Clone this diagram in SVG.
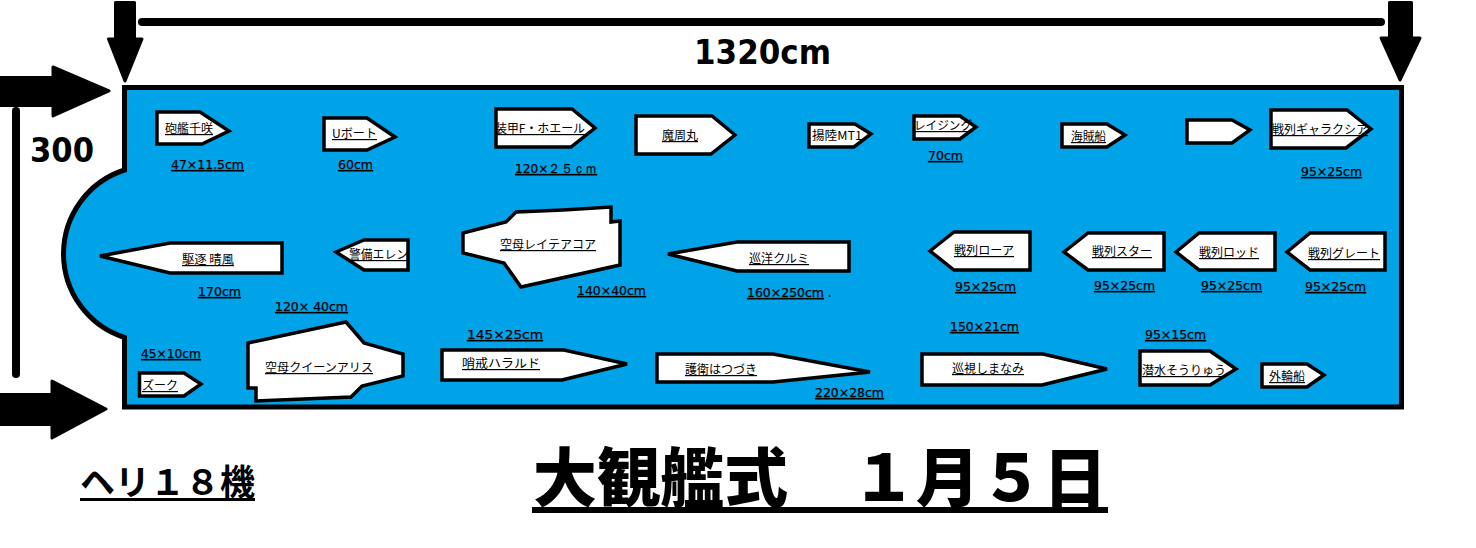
<svg xmlns="http://www.w3.org/2000/svg" width="1476" height="548" viewBox="0 0 1476 548">
<style>
text{font-family:"Noto Sans CJK JP","Liberation Sans",sans-serif;fill:#000}
.ship{fill:#fff;stroke:#000;stroke-width:3.500;stroke-linejoin:miter}
.n{font-size:12px;text-decoration:underline}
.p{font-size:12px}
.d{font-family:"DejaVu Sans","Liberation Sans",sans-serif;font-size:13px;text-decoration:underline;stroke:#000;stroke-width:.25}
.big{font-family:"DejaVu Sans",sans-serif;font-size:33px;font-weight:700}
.arrow{fill:#000;stroke:#000;stroke-width:3;stroke-linejoin:round}
.line{stroke:#000;stroke-width:8;stroke-linecap:round;fill:none}
</style>
<rect width="1476" height="548" fill="#fff"/>
<g id="hall"><path d="M124.5 87.5H1401.5V407H124.5V337.500A88 88 0 0 1 124.500 170Z" fill="#00a2e8" stroke="#000" stroke-width="5"/></g>
<g id="connectors">
<path class="line" d="M142 22H1381"/>
<path class="line" d="M16 111V374"/>
<path class="arrow" d="M115.500 2.500H134.500V39H142L125 81L108.500 39H115.500Z"/>
<path class="arrow" d="M1389.500 2.500H1411.500V38H1420L1400 80L1381 38H1389.500Z"/>
<path class="arrow" d="M0 77.500H53V67L109 91L53 116V105.500H0Z"/>
<path class="arrow" d="M0 394.500H52V381L106 409L52 438V424.500H0Z"/>
</g>
<g id="ship-houkan"><polygon class="ship" points="157,112 200,112 229,131 202,144 157,144"/><text class="n" x="165" y="133" textLength="48" lengthAdjust="spacingAndGlyphs">砲艦千咲</text></g>
<g id="ship-uboat"><polygon class="ship" points="324,118 367,118 395,137 367,150 324,150"/><text class="n" x="332" y="138" textLength="45" lengthAdjust="spacingAndGlyphs">Uボート</text></g>
<g id="ship-whale"><polygon class="ship" points="496,109 572,109 595,128 571,147 496,147"/><text class="n" x="495" y="133" textLength="90" lengthAdjust="spacingAndGlyphs">装甲F・ホエール</text></g>
<g id="ship-mashu"><polygon class="ship" points="636,116 712,116 735,135 711,154 636,154"/><text class="n" x="662" y="140" textLength="36" lengthAdjust="spacingAndGlyphs">魔周丸</text></g>
<g id="ship-mt1"><polygon class="ship" points="809,124 855,124 871,134 854,147 809,147"/><text class="p" x="812" y="140" textLength="50" lengthAdjust="spacingAndGlyphs">揚陸MT1</text></g>
<g id="ship-raising"><polygon class="ship" points="914,116 960,116 976,127 960,139 914,139"/><text class="n" x="914" y="130" textLength="58" lengthAdjust="spacingAndGlyphs">レイジング</text></g>
<g id="ship-pirate"><polygon class="ship" points="1062,124 1107,124 1125,135 1107,147 1062,147"/><text class="n" x="1071" y="141" textLength="35" lengthAdjust="spacingAndGlyphs">海賊船</text></g>
<g id="ship-blank"><polygon class="ship" points="1187,120 1232,120 1250,130 1232,143 1187,143"/></g>
<g id="ship-galaxia"><polygon class="ship" points="1271,110 1347,110 1371,129 1346,148 1271,148"/><text class="n" x="1272" y="134" textLength="96" lengthAdjust="spacingAndGlyphs">戦列ギャラクシア</text></g>
<g id="ship-harukaze"><polygon class="ship" points="100,256 170,243 282,243 282,273 170,273"/><text class="n" x="182" y="264" textLength="52" lengthAdjust="spacingAndGlyphs">駆逐 晴風</text></g>
<g id="ship-ellen"><polygon class="ship" points="336,252 364,240 408,240 408,270 364,270"/><text class="n" x="349" y="259" textLength="59" lengthAdjust="spacingAndGlyphs">警備エレン</text></g>
<g id="ship-leitea"><polygon class="ship" points="463,233 506,222 516,212 563,210 611,207 611,222 620,221 620,265 521,287 504,263 463,253"/><text class="n" x="500" y="249" textLength="96" lengthAdjust="spacingAndGlyphs">空母レイテアコア</text></g>
<g id="ship-kurumi"><polygon class="ship" points="668,254 737,242 849,242 849,271 737,271"/><text class="n" x="749" y="263" textLength="60" lengthAdjust="spacingAndGlyphs">巡洋クルミ</text></g>
<g id="ship-roa"><polygon class="ship" points="930,251 954,232 1030,232 1030,270 954,270"/><text class="n" x="954" y="255" textLength="60" lengthAdjust="spacingAndGlyphs">戦列ローア</text></g>
<g id="ship-star"><polygon class="ship" points="1064,252 1088,233 1164,233 1164,270 1088,270"/><text class="n" x="1092" y="256" textLength="60" lengthAdjust="spacingAndGlyphs">戦列スター</text></g>
<g id="ship-rod"><polygon class="ship" points="1176,252 1199,233 1275,233 1275,270 1199,270"/><text class="n" x="1199" y="257" textLength="60" lengthAdjust="spacingAndGlyphs">戦列ロッド</text></g>
<g id="ship-great"><polygon class="ship" points="1287,252 1310,233 1385,233 1385,270 1310,270"/><text class="n" x="1308" y="258" textLength="72" lengthAdjust="spacingAndGlyphs">戦列グレート</text></g>
<g id="ship-zuk"><polygon class="ship" points="139.500,373 184,373 201,384 184,396 139.500,396"/><text class="n" x="142" y="390" textLength="36" lengthAdjust="spacingAndGlyphs">ズーク</text></g>
<g id="ship-alice"><polygon class="ship" points="248,343 346,322 364,343 403,354 403,376 362,386 351,397 256,401 256,388 248,388"/><text class="n" x="265" y="372" textLength="108" lengthAdjust="spacingAndGlyphs">空母クイーンアリス</text></g>
<g id="ship-harald"><polygon class="ship" points="442,350 564,350 627,364 562,380 442,380"/><text class="n" x="462" y="368" textLength="78" lengthAdjust="spacingAndGlyphs">哨戒ハラルド</text></g>
<g id="ship-hatsuzuki"><polygon class="ship" points="657,354 773,354 870,372 773,382 657,382"/><text class="n" x="685" y="374" textLength="72" lengthAdjust="spacingAndGlyphs">護衛はつづき</text></g>
<g id="ship-shimanami"><polygon class="ship" points="922,354 1043,354 1107,369 1042,385 922,385"/><text class="n" x="952" y="373" textLength="72" lengthAdjust="spacingAndGlyphs">巡視しまなみ</text></g>
<g id="ship-soryu"><polygon class="ship" points="1140,351 1210,351 1236,369 1210,385 1140,385"/><text class="n" x="1142" y="375" textLength="84" lengthAdjust="spacingAndGlyphs">潜水そうりゅう</text></g>
<g id="ship-paddle"><polygon class="ship" points="1262,364 1307,364 1324,375 1307,387 1262,387"/><text class="n" x="1269" y="381" textLength="36" lengthAdjust="spacingAndGlyphs">外輪船</text></g>
<g id="dimensions">
<text class="d" x="171" y="169" textLength="73" lengthAdjust="spacingAndGlyphs">47×11.5cm</text>
<text class="d" x="338" y="169" textLength="35" lengthAdjust="spacingAndGlyphs">60cm</text>
<text class="d" x="515" y="173" textLength="82" lengthAdjust="spacingAndGlyphs">120×２５ｃｍ</text>
<text class="d" x="928" y="160" textLength="35" lengthAdjust="spacingAndGlyphs">70cm</text>
<text class="d" x="1301" y="176" textLength="61" lengthAdjust="spacingAndGlyphs">95×25cm</text>
<text class="d" x="198" y="296" textLength="43" lengthAdjust="spacingAndGlyphs">170cm</text>
<text class="d" x="275" y="311" textLength="73" lengthAdjust="spacingAndGlyphs">120× 40cm</text>
<text class="d" x="577" y="295" textLength="69" lengthAdjust="spacingAndGlyphs">140×40cm</text>
<text class="d" x="747" y="297" textLength="77" lengthAdjust="spacingAndGlyphs">160×250cm</text>
<text class="p" x="828" y="297">.</text>
<text class="d" x="955" y="291" textLength="61" lengthAdjust="spacingAndGlyphs">95×25cm</text>
<text class="d" x="1094" y="290" textLength="61" lengthAdjust="spacingAndGlyphs">95×25cm</text>
<text class="d" x="1201" y="290" textLength="61" lengthAdjust="spacingAndGlyphs">95×25cm</text>
<text class="d" x="1305" y="291" textLength="61" lengthAdjust="spacingAndGlyphs">95×25cm</text>
<text class="d" x="141" y="358" textLength="60" lengthAdjust="spacingAndGlyphs">45×10cm</text>
<text class="d" x="467" y="339" textLength="76" lengthAdjust="spacingAndGlyphs">145×25cm</text>
<text class="d" x="815" y="397" textLength="69" lengthAdjust="spacingAndGlyphs">220×28cm</text>
<text class="d" x="950" y="331" textLength="69" lengthAdjust="spacingAndGlyphs">150×21cm</text>
<text class="d" x="1145" y="339" textLength="61" lengthAdjust="spacingAndGlyphs">95×15cm</text>
</g>
<g id="titles">
<text class="big" x="694" y="64" textLength="137" lengthAdjust="spacingAndGlyphs">1320cm</text>
<text class="big" x="30" y="162" textLength="64" lengthAdjust="spacingAndGlyphs">300</text>
<text x="80" y="495" font-size="35" font-weight="700" textLength="175" lengthAdjust="spacingAndGlyphs">ヘリ１８機</text>
<rect x="80" y="498" width="175" height="3"/>
<text x="533" y="501" font-size="64" font-weight="900" textLength="574" lengthAdjust="spacingAndGlyphs">大観艦式　１月５日</text>
<rect x="532" y="507" width="576" height="6"/>
</g>
</svg>
